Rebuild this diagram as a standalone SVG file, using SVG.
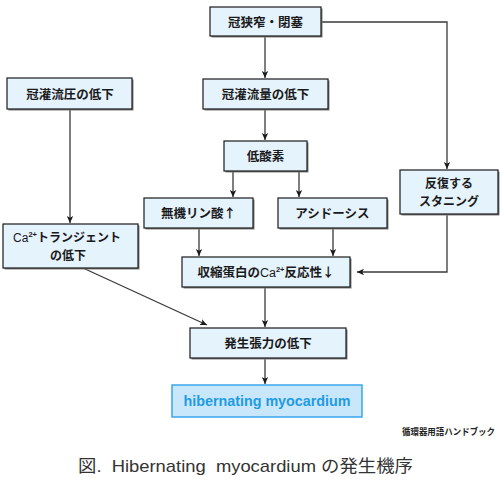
<svg xmlns="http://www.w3.org/2000/svg" width="500" height="480" viewBox="0 0 500 480">
<defs>
<style>
.bx{fill:#e5f3fd;stroke:#1a1a1a;stroke-width:1.2}
.sh{fill:#808080}
.t{font-family:"Noto Sans CJK JP","Liberation Sans",sans-serif;font-size:12.5px;font-weight:bold;fill:#1a1a1a;text-anchor:middle}
.t2{font-size:12px}
.c{fill:none;stroke:#3a3a3a;stroke-width:1.3}
.sup{font-size:7.5px;font-family:"Liberation Sans",sans-serif}
.ca{font-family:"Liberation Sans",sans-serif;font-weight:normal}
</style>
<marker id="ah" markerUnits="userSpaceOnUse" markerWidth="8" markerHeight="8" refX="7" refY="4" orient="auto">
<path d="M0,0.8 L7,4 L0,7.2 L1.8,4 Z" fill="#1a1a1a"/>
</marker>
</defs>
<rect width="500" height="480" fill="#ffffff"/>

<g id="connectors">
<path class="c" d="M265,36 V78" marker-end="url(#ah)"/>
<path class="c" d="M321,22 H447 V169" marker-end="url(#ah)"/>
<path class="c" d="M265,109 V140" marker-end="url(#ah)"/>
<path class="c" d="M70,109 V223" marker-end="url(#ah)"/>
<path class="c" d="M233,171 V197" marker-end="url(#ah)"/>
<path class="c" d="M299,171 V197" marker-end="url(#ah)"/>
<path class="c" d="M199,228 V256" marker-end="url(#ah)"/>
<path class="c" d="M333,228 V256" marker-end="url(#ah)"/>
<path class="c" d="M447,214 V272 H357" marker-end="url(#ah)"/>
<path class="c" d="M265,287 V327" marker-end="url(#ah)"/>
<path class="c" d="M83,268 L207,325" marker-end="url(#ah)"/>
<path class="c" d="M265,358 V384" marker-end="url(#ah)"/>
</g>

<g id="n1">
<rect class="sh" x="211.5" y="8.5" width="111" height="29"/>
<rect class="bx" x="210" y="7" width="111" height="29"/>
<text class="t" x="265.5" y="26.5">冠狭窄・閉塞</text>
</g>
<g id="n2">
<rect class="sh" x="8.5" y="79.5" width="125" height="31"/>
<rect class="bx" x="7" y="78" width="125" height="31"/>
<text class="t" x="70" y="98.5">冠灌流圧の低下</text>
</g>
<g id="n3">
<rect class="sh" x="204.5" y="80.5" width="125" height="30"/>
<rect class="bx" x="203" y="79" width="125" height="30"/>
<text class="t" x="265.5" y="98.5">冠灌流量の低下</text>
</g>
<g id="n4">
<rect class="sh" x="225.5" y="142.5" width="83" height="30"/>
<rect class="bx" x="224" y="141" width="83" height="30"/>
<text class="t" x="265.5" y="160.5">低酸素</text>
</g>
<g id="n5">
<rect class="sh" x="401.5" y="171.5" width="98" height="44"/>
<rect class="bx" x="400" y="170" width="98" height="44"/>
<text class="t t2"><tspan x="449" y="188">反復する</tspan><tspan x="449" y="205.5">スタニング</tspan></text>
</g>
<g id="n6">
<rect class="sh" x="145.5" y="199.5" width="109" height="30"/>
<rect class="bx" x="144" y="198" width="109" height="30"/>
<text class="t" x="198.5" y="217.5">無機リン酸↑</text>
</g>
<g id="n7">
<rect class="sh" x="279.5" y="199.5" width="109" height="30"/>
<rect class="bx" x="278" y="198" width="109" height="30"/>
<text class="t" x="332.5" y="217.5">アシドーシス</text>
</g>
<g id="n8">
<rect class="sh" x="4.5" y="225.5" width="135" height="44"/>
<rect class="bx" x="3" y="224" width="135" height="44"/>
<text class="t t2"><tspan x="67" y="242"><tspan class="ca">Ca</tspan><tspan class="sup" dy="-5">2+</tspan><tspan dy="5">トランジェント</tspan></tspan><tspan x="68" y="259.5">の低下</tspan></text>
</g>
<g id="n9">
<rect class="sh" x="183.5" y="258.5" width="168" height="30"/>
<rect class="bx" x="182" y="257" width="168" height="30"/>
<text class="t" x="266" y="276.5">収縮蛋白の<tspan class="ca">Ca</tspan><tspan class="sup" dy="-5">2+</tspan><tspan dy="5">反応性↓</tspan></text>
</g>
<g id="n10">
<rect class="sh" x="191.5" y="329.5" width="156" height="30"/>
<rect class="bx" x="190" y="328" width="156" height="30"/>
<text class="t" x="268" y="347.5">発生張力の低下</text>
</g>
<g id="n11">
<rect x="172" y="385" width="190" height="32" fill="#c9e7fa" stroke="#3aa6ec" stroke-width="1.5"/>
<text x="267" y="406" font-family="Liberation Sans,sans-serif" font-size="15" font-weight="bold" fill="#1e9be3" text-anchor="middle" textLength="167" lengthAdjust="spacingAndGlyphs">hibernating myocardium</text>
</g>

<text x="495" y="435" font-family="Noto Sans CJK JP,sans-serif" font-size="9" font-weight="bold" fill="#222" text-anchor="end" textLength="93" lengthAdjust="spacingAndGlyphs">循環器用語ハンドブック</text>
<text x="78" y="472" font-family="Liberation Sans,Noto Sans CJK JP,sans-serif" font-size="17" fill="#333" textLength="335" lengthAdjust="spacingAndGlyphs" xml:space="preserve">図.  Hibernating  myocardium の発生機序</text>
</svg>
